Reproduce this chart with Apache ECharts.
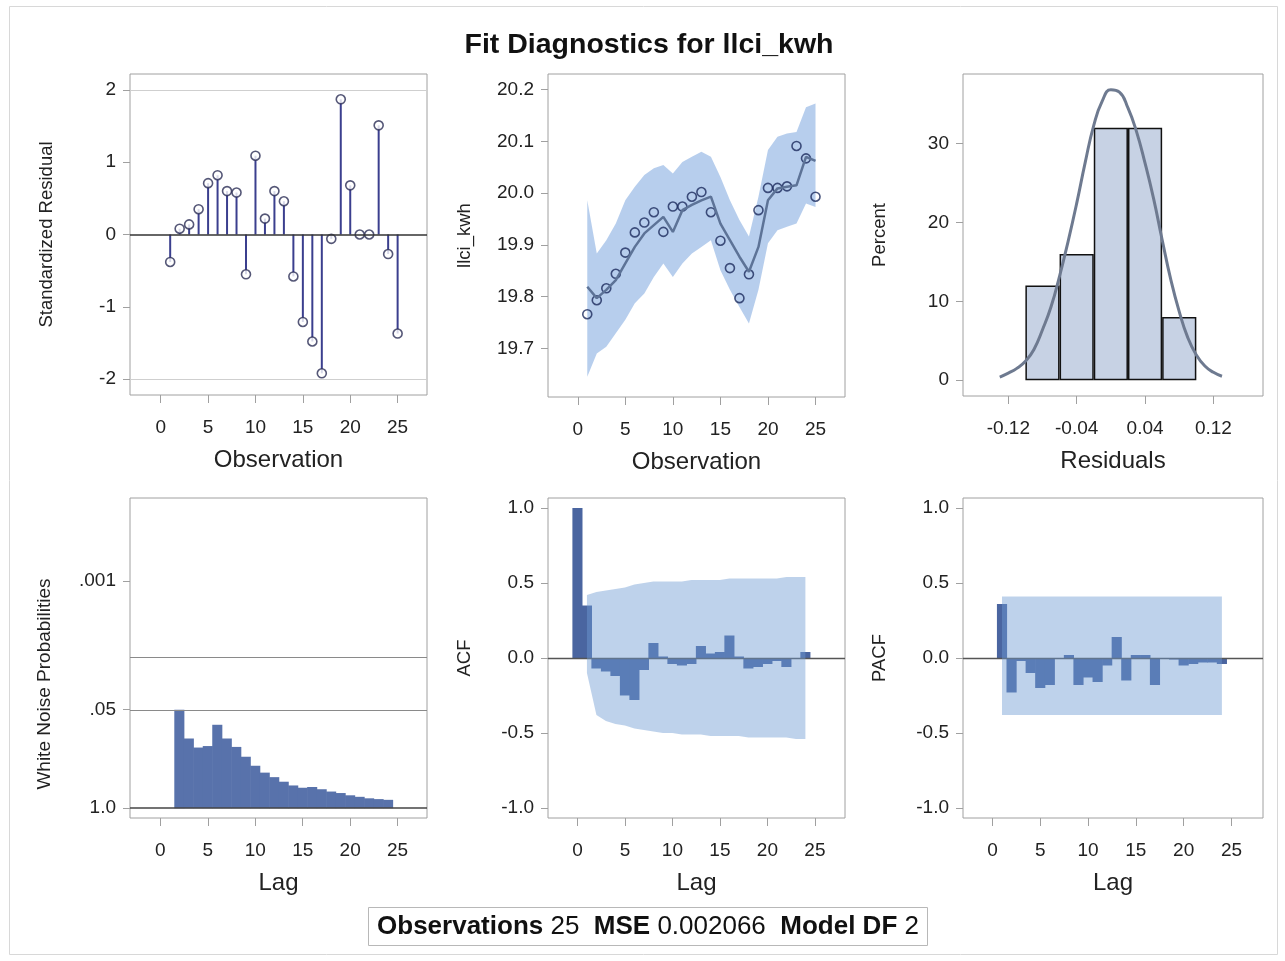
<!DOCTYPE html>
<html>
<head>
<meta charset="utf-8">
<script src="https://cdn.jsdelivr.net/npm/echarts@6/dist/echarts.min.js"></script>
<style>
  html, body { margin: 0; padding: 0; background: #fff; }
  #main { width: 1285px; height: 961px; }
</style>
</head>
<body>
<div id="main"></div>
<script>
// ---- data ----
var observations = [1, 2, 3, 4, 5, 6, 7, 8, 9, 10, 11, 12, 13, 14, 15, 16, 17, 18, 19, 20, 21, 22, 23, 24, 25];
var stdResiduals = [-0.38, 0.08, 0.14, 0.35, 0.71, 0.82, 0.60, 0.58, -0.55, 1.09, 0.22, 0.60, 0.46, -0.58, -1.21, -1.48, -1.92, -0.06, 1.87, 0.68, 0.00, 0.00, 1.51, -0.27, -1.37];

var actualValues = [19.766, 19.793, 19.816, 19.844, 19.885, 19.924, 19.943, 19.963, 19.925, 19.974, 19.974, 19.993, 20.002, 19.963, 19.908, 19.855, 19.797, 19.843, 19.967, 20.010, 20.010, 20.013, 20.091, 20.067, 19.993];
var fittedValues = [19.819, 19.797, 19.813, 19.832, 19.864, 19.896, 19.922, 19.938, 19.954, 19.925, 19.967, 19.977, 19.986, 19.993, 19.941, 19.909, 19.877, 19.848, 19.896, 19.986, 20.009, 20.012, 20.015, 20.070, 20.062];
var upperLimits = [19.986, 19.883, 19.909, 19.941, 19.986, 20.012, 20.035, 20.048, 20.054, 20.038, 20.060, 20.070, 20.080, 20.070, 20.031, 19.986, 19.948, 19.916, 19.993, 20.083, 20.109, 20.115, 20.118, 20.166, 20.173];
var lowerLimits = [19.645, 19.690, 19.703, 19.729, 19.755, 19.787, 19.806, 19.838, 19.864, 19.838, 19.864, 19.883, 19.896, 19.909, 19.851, 19.813, 19.780, 19.748, 19.813, 19.903, 19.928, 19.935, 19.941, 19.980, 19.973];

var binCenters = [-0.08, -0.04, 0.00, 0.04, 0.08];
var binPercents = [12, 16, 32, 32, 8];
var normalX = [-0.13, -0.12, -0.11, -0.10, -0.09, -0.08, -0.07, -0.06, -0.05, -0.04, -0.03, -0.02, -0.01, 0.00, 0.01, 0.02, 0.03, 0.04, 0.05, 0.06, 0.07, 0.08, 0.09, 0.10, 0.11, 0.12, 0.13];
var normalY = [0.4, 0.9, 1.5, 2.4, 3.9, 6.4, 9.3, 13.2, 17.6, 22.4, 27.6, 32.3, 35.4, 36.8, 36.5, 34.5, 31.5, 27.5, 23.0, 17.8, 12.8, 8.7, 5.4, 3.2, 1.8, 1.0, 0.5];

var wnLags = [2, 3, 4, 5, 6, 7, 8, 9, 10, 11, 12, 13, 14, 15, 16, 17, 18, 19, 20, 21, 22, 23, 24];
var wnProbs = [0.050, 0.120, 0.158, 0.151, 0.079, 0.120, 0.155, 0.209, 0.275, 0.339, 0.389, 0.447, 0.501, 0.537, 0.525, 0.562, 0.603, 0.631, 0.676, 0.708, 0.741, 0.759, 0.776];

var acfLags = [0, 1, 2, 3, 4, 5, 6, 7, 8, 9, 10, 11, 12, 13, 14, 15, 16, 17, 18, 19, 20, 21, 22, 23, 24];
var acfValues = [1.00, 0.35, -0.07, -0.09, -0.12, -0.25, -0.28, -0.08, 0.10, 0.01, -0.04, -0.05, -0.04, 0.08, 0.03, 0.04, 0.15, 0.01, -0.07, -0.06, -0.04, -0.02, -0.06, 0.00, 0.04];
var bandLags = [1, 2, 3, 4, 5, 6, 7, 8, 9, 10, 11, 12, 13, 14, 15, 16, 17, 18, 19, 20, 21, 22, 23, 24];
var acfUpper = [0.42, 0.44, 0.45, 0.46, 0.47, 0.49, 0.50, 0.51, 0.51, 0.51, 0.51, 0.52, 0.52, 0.52, 0.52, 0.53, 0.53, 0.53, 0.53, 0.53, 0.53, 0.54, 0.54, 0.54];
var acfLower = [-0.10, -0.38, -0.42, -0.44, -0.45, -0.47, -0.48, -0.49, -0.50, -0.50, -0.51, -0.51, -0.51, -0.52, -0.52, -0.52, -0.52, -0.53, -0.53, -0.53, -0.53, -0.53, -0.54, -0.54];

var pacfLags = [1, 2, 3, 4, 5, 6, 7, 8, 9, 10, 11, 12, 13, 14, 15, 16, 17, 18, 19, 20, 21, 22, 23, 24];
var pacfValues = [0.36, -0.23, -0.02, -0.10, -0.20, -0.18, 0.00, 0.02, -0.18, -0.13, -0.16, -0.05, 0.14, -0.15, 0.02, 0.02, -0.18, 0.00, -0.01, -0.05, -0.04, -0.03, -0.03, -0.04];
var pacfUpper = [0.41, 0.41, 0.41, 0.41, 0.41, 0.41, 0.41, 0.41, 0.41, 0.41, 0.41, 0.41, 0.41, 0.41, 0.41, 0.41, 0.41, 0.41, 0.41, 0.41, 0.41, 0.41, 0.41, 0.41];
var pacfLower = [-0.38, -0.38, -0.38, -0.38, -0.38, -0.38, -0.38, -0.38, -0.38, -0.38, -0.38, -0.38, -0.38, -0.38, -0.38, -0.38, -0.38, -0.38, -0.38, -0.38, -0.38, -0.38, -0.38, -0.38];

// tick labels
var obsTicks = [0, 5, 10, 15, 20, 25];
var residualTicks = [-2, -1, 0, 1, 2];
var levelTicks = [19.7, 19.8, 19.9, 20.0, 20.1, 20.2];
var binTicks = [-0.12, -0.04, 0.04, 0.12];
var percentTicks = [0, 10, 20, 30];
var probTicks = [0.001, 0.05, 1.0];
var probLabels = ['.001', '.05', '1.0'];
var probRefLines = [0.01, 0.05];
var corrTicks = [-1, -0.5, 0, 0.5, 1];

// ---- layout ----
var FONT = "'Liberation Sans', Arial, sans-serif";
var grids = [
  { left: 130, top: 74, width: 297, height: 321 },
  { left: 548, top: 74, width: 297, height: 323 },
  { left: 963, top: 74, width: 300, height: 322 },
  { left: 130, top: 498, width: 297, height: 320 },
  { left: 548, top: 498, width: 297, height: 320 },
  { left: 963, top: 498, width: 300, height: 320 }
];
var xRange = [[-3.24, 28.1], [-3.13, 28.1], [-0.173, 0.178], [-3.2, 28.1], [-3.1, 28.17], [-3.08, 28.3]];
var yRange = [[-2.22, 2.22], [19.606, 20.23], [-2.0, 38.8], [-0.13, 4.1], [-1.067, 1.067], [-1.067, 1.067]];

function pxPerUnit(i) {
  return grids[i].width / (xRange[i][1] - xRange[i][0]);
}
function negLog(p) { return -Math.log10(p); }
function pairs(xs, ys) { return xs.map(function (x, k) { return [x, ys[k]]; }); }

var chartDom = document.getElementById('main');
var myChart = echarts.init(chartDom, null, { renderer: 'canvas' });

var nameStyle = { fontFamily: FONT, fontSize: 24, color: '#222' };
var vNameStyle = { fontFamily: FONT, fontSize: 18.5, color: '#222' };

function xAxis(i, ticks, name, fmt) {
  return {
    type: 'value', gridIndex: i, min: xRange[i][0], max: xRange[i][1],
    name: name, nameLocation: 'middle', nameGap: 53, nameTextStyle: nameStyle,
    axisLine: { show: false, onZero: false },
    axisTick: { show: true, customValues: ticks, length: 8, lineStyle: { color: '#a0a0a0' } },
    axisLabel: { customValues: ticks, margin: 23, formatter: fmt, fontFamily: FONT, fontSize: 19, color: '#222' },
    splitLine: { show: false }
  };
}
function yAxis(i, ticks, name, fmt) {
  return {
    type: 'value', gridIndex: i, min: yRange[i][0], max: yRange[i][1],
    name: name, nameLocation: 'middle', nameGap: 74, nameTextStyle: vNameStyle,
    axisLine: { show: false, onZero: false },
    axisTick: { show: true, customValues: ticks, length: 7, lineStyle: { color: '#a0a0a0' } },
    axisLabel: { customValues: ticks, margin: 14, formatter: fmt, fontFamily: FONT, fontSize: 19, color: '#222' },
    splitLine: { show: false }
  };
}
function hline(y, color, width) {
  return { yAxis: y, lineStyle: { color: color, width: width, type: 'solid' } };
}
function refLines(lines) {
  return { silent: true, symbol: ['none', 'none'], label: { show: false }, data: lines };
}
// filled band between lower and upper limits, positioned through the axes
function band(i, xs, lo, hi, color, opacity, z) {
  return {
    type: 'custom', xAxisIndex: i, yAxisIndex: i, silent: true, z: z,
    data: xs.map(function (x, k) { return [x, lo[k], hi[k]]; }),
    encode: { x: 0, y: [1, 2] },
    renderItem: function (params, api) {
      if (params.dataIndex !== 0) return null;
      var pts = [];
      for (var k = 0; k < xs.length; k++) pts.push(api.coord([xs[k], hi[k]]));
      for (var m = xs.length - 1; m >= 0; m--) pts.push(api.coord([xs[m], lo[m]]));
      return { type: 'polygon', z2: 50, shape: { points: pts }, style: { fill: color, opacity: opacity } };
    }
  };
}

var option = {
  animation: false,
  backgroundColor: '#fff',
  grid: grids.map(function (g) {
    return { left: g.left, top: g.top, width: g.width, height: g.height, show: true, borderColor: '#a0a0a0', borderWidth: 1, backgroundColor: '#fff' };
  }),
  graphic: [
    { type: 'rect', shape: { x: 9.5, y: 6.5, width: 1268, height: 948 }, style: { fill: 'none', stroke: '#d8d8d8', lineWidth: 1 }, silent: true },
    { type: 'text', x: 649, y: 45, style: { text: 'Fit Diagnostics for llci_kwh', fontFamily: FONT, fontSize: 28.5, fontWeight: 'bold', fill: '#111', align: 'center', verticalAlign: 'middle' } },
    { type: 'text', x: 45, y: 684, rotation: Math.PI / 2, style: { text: 'White Noise Probabilities', fontFamily: FONT, fontSize: 19, fill: '#222', align: 'center', verticalAlign: 'middle' } },
    { type: 'rect', shape: { x: 368.5, y: 907.5, width: 559, height: 38 }, style: { fill: '#fff', stroke: '#b8b8b8', lineWidth: 1 }, silent: true },
    { type: 'text', x: 648, y: 927, style: {
        text: '{b|Observations} 25  {b|MSE} 0.002066  {b|Model DF} 2',
        rich: { b: { fontFamily: FONT, fontSize: 26, fontWeight: 'bold', fill: '#111' } },
        fontFamily: FONT, fontSize: 26, fill: '#111', align: 'center', verticalAlign: 'middle' } }
  ],
  xAxis: [
    xAxis(0, obsTicks, 'Observation'),
    xAxis(1, obsTicks, 'Observation'),
    xAxis(2, binTicks, 'Residuals', function (v) { return v.toFixed(2); }),
    xAxis(3, obsTicks, 'Lag'),
    xAxis(4, obsTicks, 'Lag'),
    xAxis(5, obsTicks, 'Lag')
  ],
  yAxis: [
    yAxis(0, residualTicks, 'Standardized Residual'),
    yAxis(1, levelTicks, 'llci_kwh', function (v) { return v.toFixed(1); }),
    yAxis(2, percentTicks, 'Percent'),
    yAxis(3, probTicks.map(negLog), '', function (v) {
      var k = 0, best = 1e9;
      probTicks.forEach(function (p, j) { var d = Math.abs(negLog(p) - v); if (d < best) { best = d; k = j; } });
      return probLabels[k];
    }),
    yAxis(4, corrTicks, 'ACF', function (v) { return v.toFixed(1); }),
    yAxis(5, corrTicks, 'PACF', function (v) { return v.toFixed(1); })
  ],
  series: [
    // standardized residuals
    {
      type: 'bar', xAxisIndex: 0, yAxisIndex: 0, barWidth: 2,
      data: pairs(observations, stdResiduals),
      itemStyle: { color: '#3b3f8e' },
      markLine: refLines([hline(2, '#cfcfcf', 1), hline(-2, '#cfcfcf', 1), hline(0, '#333', 1.5)])
    },
    {
      type: 'scatter', xAxisIndex: 0, yAxisIndex: 0, symbol: 'circle', symbolSize: 9,
      data: pairs(observations, stdResiduals),
      itemStyle: { color: '#fff', borderColor: '#2a2d55', borderWidth: 1.6 }, z: 3
    },
    // fit with confidence band
    band(1, observations, lowerLimits, upperLimits, '#afc9eb', 0.9, 1),
    {
      type: 'line', xAxisIndex: 1, yAxisIndex: 1, symbol: 'none',
      data: pairs(observations, fittedValues), lineStyle: { color: '#5d7397', width: 2.5 }
    },
    {
      type: 'scatter', xAxisIndex: 1, yAxisIndex: 1, symbol: 'circle', symbolSize: 9,
      data: pairs(observations, actualValues),
      itemStyle: { color: 'rgba(0,0,0,0)', borderColor: '#1c2b5c', borderWidth: 1.6 }
    },
    // residual histogram and normal curve
    {
      type: 'bar', xAxisIndex: 2, yAxisIndex: 2, barWidth: pxPerUnit(2) * 0.04,
      data: pairs(binCenters, binPercents),
      itemStyle: { color: '#c7d2e4', borderColor: '#111', borderWidth: 1.5 }
    },
    {
      type: 'line', xAxisIndex: 2, yAxisIndex: 2, symbol: 'none', smooth: true,
      data: pairs(normalX, normalY), lineStyle: { color: '#6e7a90', width: 3 }
    },
    // white noise probabilities
    {
      type: 'bar', xAxisIndex: 3, yAxisIndex: 3, barWidth: pxPerUnit(3) + 0.6,
      data: pairs(wnLags, wnProbs.map(negLog)),
      itemStyle: { color: '#5872ab' },
      markLine: refLines(probRefLines.map(function (p) { return hline(negLog(p), '#8a8a8a', 1.2); }).concat([hline(0, '#444', 1.5)]))
    },
    // ACF (band drawn over the bars)
    {
      type: 'bar', xAxisIndex: 4, yAxisIndex: 4, barWidth: pxPerUnit(4) + 0.6, z: 1,
      data: pairs(acfLags, acfValues),
      itemStyle: { color: '#4a65a0' },
      markLine: refLines([hline(0, '#555', 1.3)])
    },
    band(4, bandLags, acfLower, acfUpper, '#6f9bd2', 0.45, 5),
    // PACF (band drawn over the bars)
    {
      type: 'bar', xAxisIndex: 5, yAxisIndex: 5, barWidth: pxPerUnit(5) + 0.6, z: 1,
      data: pairs(pacfLags, pacfValues),
      itemStyle: { color: '#4a65a0' },
      markLine: refLines([hline(0, '#555', 1.3)])
    },
    band(5, bandLags, pacfLower, pacfUpper, '#6f9bd2', 0.45, 5)
  ]
};

option && myChart.setOption(option);
</script>
</body>
</html>
